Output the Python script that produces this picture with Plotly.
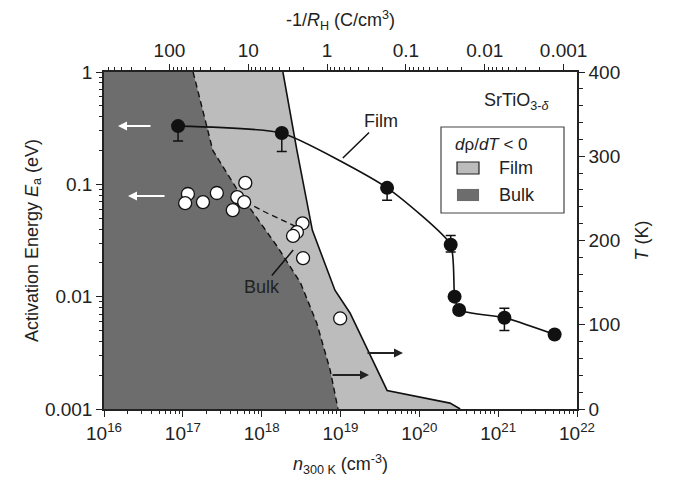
import plotly.graph_objects as go

# ---------------- data ----------------
# Film: activation energy (left axis) vs carrier density
film_n = [8.7e16, 1.8e18, 3.9e19, 2.5e20, 2.8e20, 3.2e20, 1.2e21, 5.2e21]
film_Ea = [0.33, 0.286, 0.093, 0.029, 0.010, 0.0076, 0.0065, 0.0046]
film_err_minus = [0.087, 0.09, 0.021, 0.004, 0, 0, 0.0015, 0]
film_err_plus = [0, 0, 0, 0.006, 0, 0, 0.0014, 0]

# Bulk: activation energy (left axis)
bulk_n = [1.16e17, 1.07e17, 1.8e17, 2.7e17, 6.2e17, 4.9e17, 6.0e17, 4.3e17,
          3.3e18, 2.8e18, 2.5e18, 3.35e18, 9.9e18]
bulk_Ea = [0.082, 0.068, 0.0695, 0.0837, 0.103, 0.077, 0.0695, 0.059,
           0.045, 0.0376, 0.0347, 0.022, 0.0064]
bulk_fit_n = [4.8e17, 1.2e18, 3.2e18]
bulk_fit_Ea = [0.077, 0.055, 0.040]

# d(rho)/dT < 0 region boundaries (right axis, T in K)
film_bnd_n = [1.86e18, 2.8e18, 4.4e18, 8.5e18, 1.32e19, 3.9e19, 2.45e20, 3.3e20]
film_bnd_T = [400, 307, 212, 141, 114, 22, 7, 0]
bulk_bnd_n = [1.35e17, 2.4e17, 5.4e17, 1.6e18, 3.1e18, 5.0e18, 7.4e18, 9.3e18]
bulk_bnd_T = [400, 307, 254, 192, 150, 102, 46, 0]

n_min, n_max = 1e16, 1e22
T_min, T_max = 0, 400

bottom_tickvals = [10.0 ** k for k in range(16, 23)]
bottom_ticktext = ["10<sup>%d</sup>" % k for k in range(16, 23)]
left_tickvals = [0.001, 0.01, 0.1, 1]
left_ticktext = ["0.001", "0.01", "0.1", "1"]
right_tickvals = [0, 100, 200, 300, 400]
top_tickvals = [100, 10, 1, 0.1, 0.01, 0.001]
top_ticktext = ["100", "10", "1", "0.1", "0.01", "0.001"]
top_log_at_n16 = 2.83  # log10 of top-axis value at n = 1e16

# ---------------- styling ----------------
FONT = "Liberation Sans, Arial, sans-serif"
TXT = "#222222"
DARK = "#6d6d6d"
LIGHT = "#bcbcbc"
DASH = "6px,4px"

fig = go.Figure()

# ---- regions on the T axis (yaxis "y", drawn on the right) ----
fig.add_trace(go.Scatter(
    x=[n_min, n_min] + film_bnd_n, y=[T_min, T_max] + film_bnd_T,
    xaxis="x", yaxis="y", fill="toself", fillcolor=LIGHT, mode="none",
    hoverinfo="skip", showlegend=False))
fig.add_trace(go.Scatter(
    x=[n_min, n_min] + bulk_bnd_n, y=[T_min, T_max] + bulk_bnd_T,
    xaxis="x", yaxis="y", fill="toself", fillcolor=DARK, mode="none",
    hoverinfo="skip", showlegend=False))
fig.add_trace(go.Scatter(
    x=film_bnd_n, y=film_bnd_T, xaxis="x", yaxis="y", mode="lines",
    line=dict(color="#111111", width=1.6), showlegend=False, hoverinfo="skip"))
fig.add_trace(go.Scatter(
    x=bulk_bnd_n, y=bulk_bnd_T, xaxis="x", yaxis="y", mode="lines",
    line=dict(color="#111111", width=1.4, dash=DASH), showlegend=False,
    hoverinfo="skip"))

# ---- activation energy data (yaxis "y2", drawn on the left, on top) ----
fig.add_trace(go.Scatter(
    x=film_n, y=film_Ea, xaxis="x", yaxis="y2", mode="lines",
    line=dict(color="#111111", width=1.6, shape="spline", smoothing=0.5),
    showlegend=False, hoverinfo="skip"))
fig.add_trace(go.Scatter(
    x=bulk_fit_n, y=bulk_fit_Ea, xaxis="x", yaxis="y2", mode="lines",
    line=dict(color="#111111", width=1.3, dash=DASH),
    showlegend=False, hoverinfo="skip"))
fig.add_trace(go.Scatter(
    x=bulk_n, y=bulk_Ea, xaxis="x", yaxis="y2", mode="markers",
    marker=dict(symbol="circle", size=13, color="white",
                line=dict(color="#111111", width=1.3)),
    showlegend=False))
fig.add_trace(go.Scatter(
    x=film_n, y=film_Ea, xaxis="x", yaxis="y2", mode="markers",
    marker=dict(symbol="circle", size=14, color="#111111"),
    error_y=dict(type="data", symmetric=False, array=film_err_plus,
                 arrayminus=film_err_minus, color="#111111", thickness=1.5,
                 width=5),
    showlegend=False))
# invisible trace for the top axis
fig.add_trace(go.Scatter(x=[1], y=[0.01], xaxis="x3", yaxis="y2", mode="markers",
                         marker=dict(opacity=0), showlegend=False, hoverinfo="skip"))


def minor_log(lo, hi):
    vals = []
    for d in range(lo, hi):
        for k in range(2, 10):
            vals.append(k * 10.0 ** d)
    return vals


axis_common = dict(showgrid=False, zeroline=False, showline=True,
                   linecolor="#222222", linewidth=1.5, ticks="outside",
                   tickcolor="#222222", tickwidth=1.3, ticklen=6,
                   tickfont=dict(family=FONT, size=19, color=TXT))
title_font = dict(family=FONT, size=18, color=TXT)

fig.update_layout(
    width=676, height=487,
    margin=dict(l=104, r=99, t=72, b=78),
    paper_bgcolor="white", plot_bgcolor="white",
    font=dict(family=FONT, color=TXT, size=18),
    xaxis=dict(type="log", range=[16, 22], tickmode="array",
               tickvals=bottom_tickvals, ticktext=bottom_ticktext,
               minor=dict(tickmode="array", tickvals=minor_log(16, 22),
                          ticks="outside", ticklen=3, tickcolor="#222222"),
               title=dict(text="<i>n</i><sub>300 K</sub> (cm<sup>-3</sup>)",
                          standoff=15, font=title_font),
               **axis_common),
    yaxis=dict(range=[T_min, T_max], side="right", anchor="x",
               tickmode="array", tickvals=right_tickvals,
               minor=dict(dtick=20, ticks="outside", ticklen=4, tickcolor="#222222"),
               title=dict(text="<i>T</i> (K)", standoff=16, font=title_font),
               **axis_common),
    yaxis2=dict(type="log", range=[-3, 0], overlaying="y", side="left", anchor="x",
                tickmode="array", tickvals=left_tickvals, ticktext=left_ticktext,
                minor=dict(tickmode="array", tickvals=minor_log(-3, 0),
                           ticks="outside", ticklen=3, tickcolor="#222222"),
                title=dict(text="Activation Energy <i>E</i><sub>a</sub> (eV)",
                           standoff=2, font=title_font),
                **axis_common),
    xaxis3=dict(type="log", overlaying="x", side="top", anchor="y2",
                range=[top_log_at_n16, top_log_at_n16 - 6],
                tickmode="array", tickvals=top_tickvals, ticktext=top_ticktext,
                minor=dict(tickmode="array", tickvals=minor_log(-3, 3),
                           ticks="outside", ticklen=3, tickcolor="#222222"),
                title=dict(text="-1/<i>R</i><sub>H</sub> (C/cm<sup>3</sup>)",
                           standoff=8, font=title_font),
                **axis_common),
)


def px_to_paper(px, py):
    return (px - 104) / 473.0, (409 - py) / 337.0


annotations = []
# Film / Bulk labels with pointer lines
annotations.append(dict(x=19.03, y=-0.766, xref="x", yref="y2", text="Film",
                        showarrow=True, arrowhead=0, arrowwidth=1.5, arrowcolor="#111111",
                        ax=38, ay=-37, font=dict(size=18, color=TXT)))
annotations.append(dict(x=18.40, y=-1.585, xref="x", yref="y2", text="Bulk",
                        showarrow=True, arrowhead=0, arrowwidth=1.5, arrowcolor="#111111",
                        ax=-31, ay=37, font=dict(size=18, color=TXT)))
# direction arrows (white -> left axis, black -> right axis)
for tip, tail, col in [((118, 126), (152, 126), "white"),
                       ((128, 196), (166, 196), "white"),
                       ((403, 353), (366, 353), "#222222"),
                       ((369, 375), (331, 375), "#222222")]:
    tx, ty = px_to_paper(*tip)
    annotations.append(dict(x=tx, y=ty, xref="paper", yref="paper", text="",
                            showarrow=True, arrowhead=2, arrowsize=1, arrowwidth=1.8,
                            arrowcolor=col, ax=tail[0] - tip[0], ay=0))
# material label
mx, my = px_to_paper(517, 101)
annotations.append(dict(x=mx, y=my, xref="paper", yref="paper", xanchor="center",
                        yanchor="middle", text="SrTiO<sub>3-<i>δ</i></sub>",
                        showarrow=False, font=dict(size=18, color=TXT)))
# legend text
lx, ly = px_to_paper(491, 144)
annotations.append(dict(x=lx, y=ly, xref="paper", yref="paper", xanchor="center",
                        yanchor="middle", text="<i>d</i>ρ/<i>dT</i> &lt; 0",
                        showarrow=False, font=dict(size=17, color=TXT)))
for label, py in [("Film", 168), ("Bulk", 195)]:
    ax_, ay_ = px_to_paper(497, py)
    annotations.append(dict(x=ax_, y=ay_, xref="paper", yref="paper", text=label,
                            showarrow=False, xanchor="left", yanchor="middle",
                            font=dict(size=18, color=TXT)))
fig.update_layout(annotations=annotations)

shapes = []
x0, y0 = px_to_paper(441, 213)
x1, y1 = px_to_paper(564, 127)
shapes.append(dict(type="rect", xref="paper", yref="paper", x0=x0, y0=y0, x1=x1, y1=y1,
                   line=dict(color="#444444", width=1.2), fillcolor="white"))
for py, col, bd in [(168, LIGHT, 1.2), (195, DARK, 0)]:
    sx0, sy0 = px_to_paper(457, py + 6)
    sx1, sy1 = px_to_paper(479, py - 6)
    shapes.append(dict(type="rect", xref="paper", yref="paper", x0=sx0, y0=sy0,
                       x1=sx1, y1=sy1, fillcolor=col,
                       line=dict(color="#222222" if bd else col, width=bd if bd else 0.1)))
fig.update_layout(shapes=shapes)

fig.write_html("out.html")
